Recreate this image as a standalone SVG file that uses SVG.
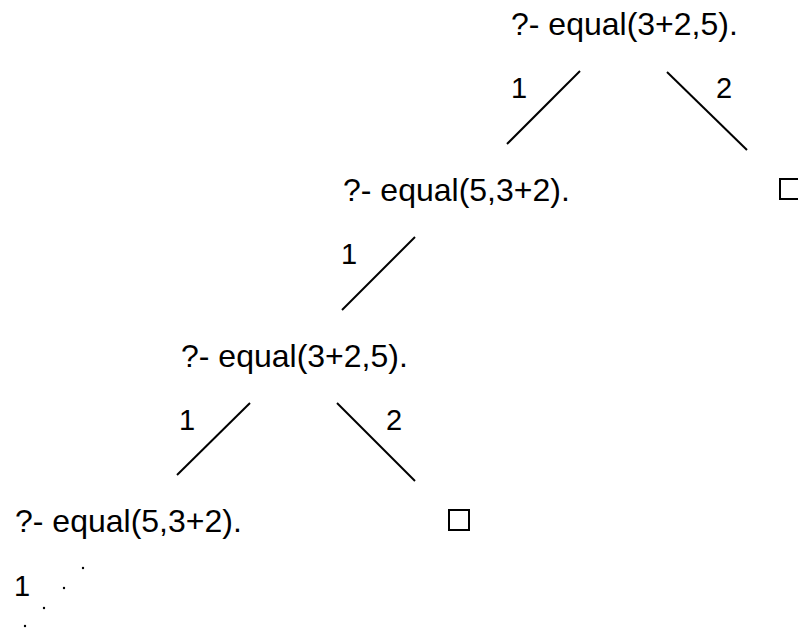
<svg xmlns="http://www.w3.org/2000/svg" width="798" height="629" viewBox="0 0 798 629">
<style>
.t{font-family:"Liberation Sans",Arial,sans-serif;font-size:32px;fill:#000}
.l{font-family:"Liberation Sans",Arial,sans-serif;font-size:29px;fill:#000}
.e{stroke:#000;stroke-width:2;fill:none}
.b{stroke:#000;stroke-width:2;fill:none}
.d{fill:#000}
</style>
<rect width="798" height="629" fill="#fff"/>
<g id="n1"><text class="t" x="511" y="35">?- equal(3+2,5).</text></g>
<g id="n2"><text class="t" x="343" y="201">?- equal(5,3+2).</text></g>
<g id="n3"><text class="t" x="181" y="367">?- equal(3+2,5).</text></g>
<g id="n4"><text class="t" x="15" y="532">?- equal(5,3+2).</text></g>
<g id="s1"><rect class="b" x="780" y="179" width="20" height="20"/></g>
<g id="s2"><rect class="b" x="449" y="510" width="20" height="20"/></g>
<g id="connectors">
<line class="e" x1="580" y1="71" x2="507" y2="144"/>
<line class="e" x1="667" y1="72" x2="747" y2="150"/>
<line class="e" x1="415" y1="237" x2="342" y2="310"/>
<line class="e" x1="250" y1="403" x2="177" y2="475"/>
<line class="e" x1="337" y1="403" x2="415" y2="481"/>
<circle class="d" cx="83" cy="568" r="1.2"/>
<circle class="d" cx="64" cy="588" r="1.2"/>
<circle class="d" cx="44" cy="608" r="1.2"/>
<circle class="d" cx="25" cy="626" r="1.2"/>
</g>
<g id="labels">
<text class="l" x="511" y="98">1</text>
<text class="l" x="716" y="98">2</text>
<text class="l" x="341" y="264">1</text>
<text class="l" x="179" y="430">1</text>
<text class="l" x="386" y="430">2</text>
<text class="l" x="14" y="596">1</text>
</g>
</svg>
